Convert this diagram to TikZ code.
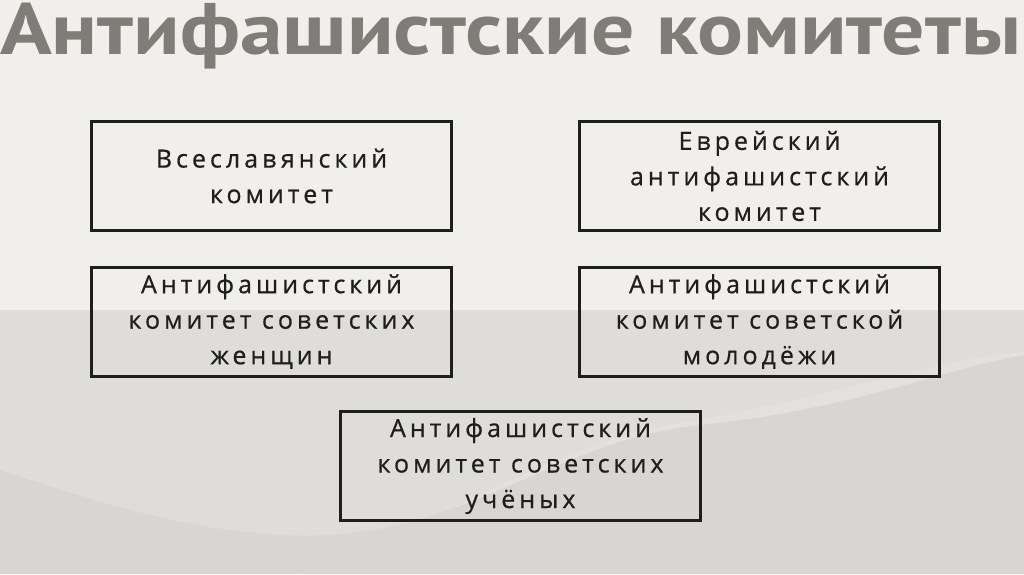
\documentclass[tikz,border=0pt]{standalone}
\usepackage{fontspec}
\usepackage{graphicx}
\setmainfont{PT Sans}
\newfontfamily\boxfont[LetterSpace=16,FakeBold=0.6]{Open Sans}
\usetikzlibrary{positioning}
\definecolor{fonvil}{HTML}{F1EFEB}
\definecolor{fonsot}{HTML}{DFDDD9}
\definecolor{hullam}{HTML}{D8D6D2}
\definecolor{hullamvil}{HTML}{E3E1DD}
\definecolor{cimszin}{HTML}{807D79}
\definecolor{betu}{HTML}{1E1E1E}
\tikzset{
  komdob/.style={draw=betu,line width=3pt,minimum width=360pt,minimum height=109pt,
    inner sep=0pt,align=center,text=betu,font=\boxfont\fontsize{25pt}{35.5pt}\selectfont},
  cim/.style={anchor=base west,inner sep=0pt,text=cimszin},
}
\begin{document}
\begin{tikzpicture}[x=1pt,y=-1pt]
  \useasboundingbox (0,0) rectangle (1024,574);
  % background
  \fill[fonvil] (0,0) rectangle (1024,574);
  \fill[fonsot] (0,310) rectangle (1024,574);
  \fill[hullamvil] (680,423) .. controls (820,400) and (930,360) .. (1024,352)
    -- (1024,574) -- (300,574) .. controls (450,520) and (560,440) .. (680,423);
  \fill[hullam] (0,470) .. controls (120,510) and (220,540) .. (330,535)
    .. controls (480,525) and (560,440) .. (700,425)
    .. controls (850,410) and (940,370) .. (1024,355) -- (1024,574) -- (0,574) -- cycle;
  % title
  \node[cim] (cim) at (0,54) {\resizebox{1021pt}{\height}{\fontsize{73pt}{73pt}\bfseries Антифашистские комитеты}};
  % committees
  \node[komdob] (vses) at (271.5,176) {Всеславянский\\комитет};
  \node[komdob] (evr) at (759.5,176) {Еврейский\\антифашистский\\комитет};
  \node[komdob] (zhen) at (271.5,321.5) {Антифашистский\\комитет советских\\женщин};
  \node[komdob] (mol) at (759.5,321.5) {Антифашистский\\комитет советской\\молодёжи};
  \node[komdob] (uch) at (520.5,466) {Антифашистский\\комитет советских\\учёных};
\end{tikzpicture}
\end{document}
